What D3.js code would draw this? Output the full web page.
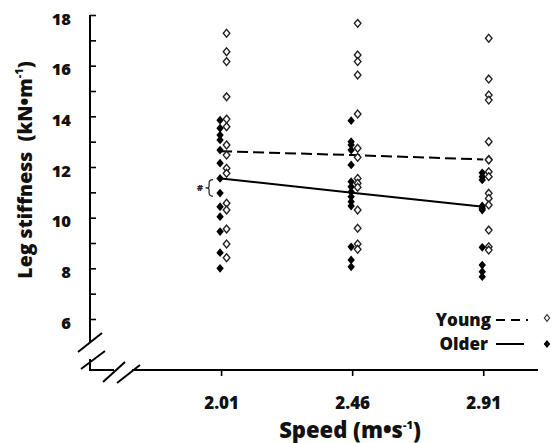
<!DOCTYPE html>
<html>
<head>
<meta charset="utf-8">
<script src="https://cdn.jsdelivr.net/npm/d3@7"></script>
<style>
  body { margin: 0; background: #fff; }
  svg { display: block; font-family: 'Open Sans', sans-serif; font-weight: 800; }
</style>
</head>
<body>
<div id="chart"></div>
<script>
// Running speeds (m/s)
const speeds = [2.01, 2.46, 2.91];

// Individual leg stiffness values (kN/m), one list per speed
const youngValues = [
  [17.28, 16.55, 16.16, 14.77, 13.89, 13.59, 12.87, 12.47, 11.95, 11.75, 10.57, 10.30, 9.55, 8.96, 8.42],
  [17.67, 16.42, 16.16, 15.63, 14.09, 12.74, 12.38, 11.55, 11.36, 11.20, 10.30, 9.58, 8.96, 8.75],
  [17.08, 15.47, 14.84, 14.64, 13.00, 12.30, 12.28, 11.81, 11.62, 10.96, 10.76, 10.50, 9.51, 8.85, 8.72]
];
const olderValues = [
  [13.85, 13.53, 13.26, 13.07, 12.67, 12.15, 11.55, 10.97, 10.43, 10.04, 9.45, 8.62, 8.00],
  [13.83, 13.00, 12.87, 12.67, 12.08, 11.42, 11.22, 11.02, 10.83, 10.63, 10.46, 8.85, 8.33, 8.06],
  [11.77, 11.62, 11.49, 10.46, 10.37, 10.30, 8.83, 8.13, 7.87, 7.67]
];

// Group means (trend lines)
const youngMeans = [12.62, 12.47, 12.30];
const olderMeans = [11.55, 10.98, 10.43];

// Axis ticks
const yTicks = [6, 7, 8, 9, 10, 11, 12, 13, 14, 15, 16, 17, 18];
const xTickLabels = ['2.01', '2.46', '2.91'];

const groups = ['Young', 'Older'];

const W = 555, H = 443;

const svg = d3.select('#chart').append('svg')
  .attr('width', W)
  .attr('height', H);

const x = d3.scaleLinear().domain([1.56, 3.098]).range([90, 538]);
const y = d3.scaleLinear().domain([6, 18]).range([319, 15]);

const axisX = 90;      // y axis position
const axisY = 370;     // x axis position

// Diamond marker path
function diamond(w, h) {
  return `M0,${-h}L${w},0L0,${h}L${-w},0Z`;
}

// --- Y axis (ticks point inward) ---
const gy = svg.append('g')
  .attr('transform', `translate(${axisX},0)`)
  .call(d3.axisLeft(y)
    .tickValues(yTicks)
    .tickSize(-6)
    .tickPadding(19)
    .tickFormat(d => d % 2 === 0 ? d : ''));
gy.select('.domain').remove();
gy.selectAll('.tick line').attr('stroke', '#000').attr('stroke-width', 1.6);
gy.selectAll('.tick text')
  .attr('dy', '0.55em')
  .attr('fill', '#111')
  .style('font-size', '16.5px')
  .style('font-family', 'Open Sans')
  .style('font-weight', 800);

// --- X axis (ticks point outward) ---
const gx = svg.append('g')
  .attr('transform', `translate(0,${axisY})`)
  .call(d3.axisBottom(x)
    .tickValues(speeds)
    .tickSize(6)
    .tickPadding(21)
    .tickFormat((d, i) => xTickLabels[i]));
gx.select('.domain').remove();
gx.selectAll('.tick line').attr('stroke', '#000').attr('stroke-width', 1.6);
gx.selectAll('.tick text')
  .attr('fill', '#111')
  .style('font-size', '17px')
  .style('font-family', 'Open Sans')
  .style('font-weight', 800);

// Axis lines with breaks
const axisLines = svg.append('g').attr('stroke', '#000').attr('stroke-width', 2).attr('fill', 'none');
axisLines.append('line').attr('x1', axisX).attr('x2', axisX).attr('y1', y(18)).attr('y2', 342);
axisLines.append('line').attr('x1', axisX).attr('x2', axisX).attr('y1', 359).attr('y2', axisY + 1);
axisLines.append('line').attr('x1', axisX - 1).attr('x2', 114).attr('y1', axisY).attr('y2', axisY);
axisLines.append('line').attr('x1', 132).attr('x2', 538).attr('y1', axisY).attr('y2', axisY);

// Break slashes
const slashes = [
  [78, 352, 102, 333], [81, 369, 105, 351],
  [103, 382, 125, 362], [117, 383, 140, 365]
];
axisLines.selectAll('.slash')
  .data(slashes)
  .enter()
  .append('line')
  .attr('class', 'slash')
  .attr('x1', d => d[0]).attr('y1', d => d[1])
  .attr('x2', d => d[2]).attr('y2', d => d[3]);

// --- Mean lines ---
const line = d3.line()
  .x((d, i) => x(speeds[i]))
  .y(d => y(d));

svg.append('path')
  .datum(youngMeans)
  .attr('d', line)
  .attr('fill', 'none')
  .attr('stroke', '#000')
  .attr('stroke-width', 2)
  .attr('stroke-dasharray', '11,5');

svg.append('path')
  .datum(olderMeans)
  .attr('d', line)
  .attr('fill', 'none')
  .attr('stroke', '#000')
  .attr('stroke-width', 2);

// --- Individual points ---
const olderPts = [];
const youngPts = [];
speeds.forEach((s, i) => {
  olderValues[i].forEach(v => olderPts.push({ s, v }));
  youngValues[i].forEach(v => youngPts.push({ s, v }));
});

svg.append('g')
  .selectAll('path')
  .data(olderPts)
  .enter()
  .append('path')
  .attr('transform', d => `translate(${x(d.s) - 1},${y(d.v)})`)
  .attr('d', diamond(3.7, 4.4))
  .attr('fill', '#000');

svg.append('g')
  .selectAll('path')
  .data(youngPts)
  .enter()
  .append('path')
  .attr('transform', d => `translate(${x(d.s) + 5.5},${y(d.v)})`)
  .attr('d', diamond(3.3, 3.9))
  .attr('fill', '#fff')
  .attr('stroke', '#222')
  .attr('stroke-width', 1.4);

// --- Significance bracket (#) at slowest speed ---
const bx = x(speeds[0]) - 12;
const bTop = y(11.5), bBot = y(10.85), bMid = (bTop + bBot) / 2;
svg.append('path')
  .attr('d', `M${bx + 4},${bTop} Q${bx},${bTop} ${bx},${bTop + 3.5} L${bx},${bMid - 1.5} Q${bx},${bMid} ${bx - 3.5},${bMid} Q${bx},${bMid} ${bx},${bMid + 1.5} L${bx},${bBot - 3.5} Q${bx},${bBot} ${bx + 4},${bBot}`)
  .attr('fill', 'none')
  .attr('stroke', '#222')
  .attr('stroke-width', 1.2);
svg.append('text')
  .attr('x', bx - 9)
  .attr('y', bMid + 3)
  .attr('text-anchor', 'middle')
  .attr('fill', '#222')
  .style('font-size', '9px')
  .text('#');

// --- Axis titles ---
const xTitle = svg.append('text')
  .attr('x', 350)
  .attr('y', 438)
  .attr('text-anchor', 'middle')
  .attr('fill', '#111')
  .style('font-size', '22px');
xTitle.append('tspan').text('Speed (m\u2022s');
xTitle.append('tspan').attr('dy', -9).style('font-size', '11px').text('-1');
xTitle.append('tspan').attr('dy', 9).text(')');

const yTitle = svg.append('text')
  .attr('transform', 'translate(32,170) rotate(-90)')
  .attr('text-anchor', 'middle')
  .attr('fill', '#111')
  .style('font-size', '19.5px');
yTitle.append('tspan').text('Leg stiffness\u00a0 (kN\u2022m');
yTitle.append('tspan').attr('dy', -9).style('font-size', '11px').text('-1');
yTitle.append('tspan').attr('dy', 9).text(')');

// --- Legend ---
const legend = svg.append('g');
const legendRows = [
  { label: groups[0], y: 320, dash: '9,6', open: true, textX: 491 },
  { label: groups[1], y: 344, dash: null, open: false, textX: 488 }
];
legendRows.forEach(r => {
  legend.append('text')
    .attr('x', r.textX)
    .attr('y', r.y + 5.5)
    .attr('text-anchor', 'end')
    .attr('fill', '#111')
    .style('font-size', '17px')
    .text(r.label);
  legend.append('line')
    .attr('x1', 496).attr('x2', r.open ? 528 : 524)
    .attr('y1', r.y).attr('y2', r.y)
    .attr('stroke', '#000')
    .attr('stroke-width', 2)
    .attr('stroke-dasharray', r.dash);
  legend.append('path')
    .attr('transform', `translate(547,${r.open ? r.y - 2 : r.y})`)
    .attr('d', r.open ? diamond(2.6, 3.3) : diamond(3.3, 4))
    .attr('fill', r.open ? '#fff' : '#000')
    .attr('stroke', r.open ? '#333' : 'none')
    .attr('stroke-width', 1.2);
});
</script>
</body>
</html>
